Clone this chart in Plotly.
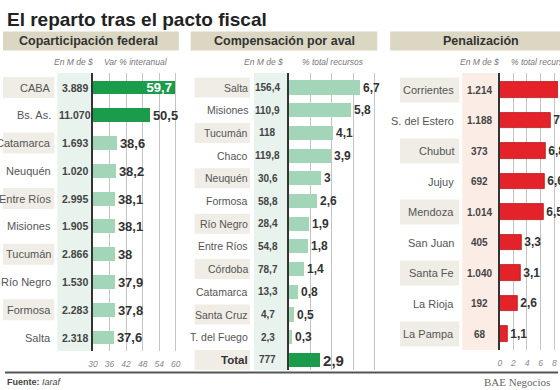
import plotly.graph_objects as go

W, H = 560, 390
FONT = "Liberation Sans, Arial, sans-serif"

# ---------------- data ----------------
copa_names = ["CABA", "Bs. As.", "Catamarca", "Neuquén", "Entre Ríos", "Misiones",
              "Tucumán", "Río Negro", "Formosa", "Salta"]
copa_mill = ["3.889", "11.070", "1.693", "1.020", "2.995", "1.905", "2.866", "1.530", "2.283", "2.318"]
copa_var = [59.7, 50.5, 38.6, 38.2, 38.1, 38.1, 38.0, 37.9, 37.8, 37.6]
copa_ticks = [30, 36, 42, 48, 54, 60]

aval_names = ["Salta", "Misiones", "Tucumán", "Chaco", "Neuquén", "Formosa", "Río Negro",
              "Entre Ríos", "Córdoba", "Catamarca", "Santa Cruz", "T. del Fuego", "Total"]
aval_mill = ["156,4", "110,9", "118", "119,8", "30,6", "58,8", "28,4", "54,8", "78,7",
             "13,3", "4,7", "2,3", "777"]
aval_pct = [6.7, 5.8, 4.1, 3.9, 3.0, 2.6, 1.9, 1.8, 1.4, 0.8, 0.5, 0.3, 2.9]
aval_grid = [2, 4, 6, 8]

pen_names = ["Corrientes", "S. del Estero", "Chubut", "Jujuy", "Mendoza", "San Juan",
             "Santa Fe", "La Rioja", "La Pampa"]
pen_mill = ["1.214", "1.188", "373", "692", "1.014", "405", "1.040", "192", "68"]
pen_pct = [9.7, 7.5, 6.8, 6.6, 6.5, 3.3, 3.1, 2.6, 1.1]
pen_ticks = [0, 2, 4, 6, 8]

LG = "#a3d5b8"
DG = "#1a9c4a"
RED = "#e3222a"
BEIGE = "#dcd7c3"
BOX = "#efede6"
GREEN_BG = "#e8f3ed"
PINK_BG = "#fcece6"


def fx(px):
    return px / W


def fy(py):
    return 1 - py / H


def fmt(v):
    s = f"{v:.1f}"
    if s.endswith(".0"):
        s = s[:-2]
    return s.replace(".", ",")


P = [
    dict(ax=89, right=176, x0=30, scale=2.8, top=73, bottom=351, c0=87.5, sp=27.78, bw=0.5),
    dict(ax=287.7, right=377, x0=0, scale=10.8, top=73, bottom=370, c0=87.5, sp=22.7, bw=0.62),
    dict(ax=501, right=560, x0=0, scale=6.9, top=73, bottom=350, c0=90, sp=30.5, bw=0.52),
]

fig = go.Figure()

# panel 1 bars
fig.add_trace(go.Bar(
    y=list(range(len(copa_names))), x=copa_var, orientation="h",
    marker=dict(color=[DG, DG] + [LG] * 8, line=dict(width=0)),
    width=P[0]["bw"],
    text=[fmt(v) for v in copa_var],
    textposition=["inside"] + ["outside"] * 9,
    insidetextanchor="end",
    textfont=dict(family=FONT, size=13, color="#333"),
    insidetextfont=dict(family=FONT, size=13, color="white", weight="bold"),
    outsidetextfont=dict(family=FONT, size=13, color="#333", weight="bold"),
    constraintext="none", cliponaxis=True, hoverinfo="skip",
    xaxis="x", yaxis="y",
))

# panel 2 bars
fig.add_trace(go.Bar(
    y=list(range(len(aval_names))), x=aval_pct, orientation="h",
    marker=dict(color=[LG] * 12 + [DG], line=dict(width=0)),
    width=P[1]["bw"],
    text=[fmt(v) for v in aval_pct],
    textposition="outside",
    textfont=dict(family=FONT, size=[12] * 12 + [15], color="#333", weight="bold"),
    constraintext="none", cliponaxis=False, hoverinfo="skip",
    xaxis="x2", yaxis="y2",
))

# panel 3 bars
fig.add_trace(go.Bar(
    y=list(range(len(pen_names))), x=pen_pct, orientation="h",
    marker=dict(color=RED, line=dict(width=0.8, color="#b8161d")),
    width=P[2]["bw"],
    text=[fmt(v) for v in pen_pct],
    textposition="outside",
    textfont=dict(family=FONT, size=12, color="#333", weight="bold"),
    constraintext="none", cliponaxis=False, hoverinfo="skip",
    xaxis="x3", yaxis="y3",
))

axis_names = [("xaxis", "yaxis", "x", "y"), ("xaxis2", "yaxis2", "x2", "y2"), ("xaxis3", "yaxis3", "x3", "y3")]
grid_vals = [copa_ticks, aval_grid, pen_ticks]
show_ticks = [True, False, True]
layout_axes = {}
for i, p in enumerate(P):
    xa, ya, xr, yr = axis_names[i]
    layout_axes[xa] = dict(
        domain=[fx(p["ax"]), fx(p["right"])],
        range=[p["x0"], p["x0"] + (p["right"] - p["ax"]) / p["scale"]],
        anchor=yr, showgrid=True, gridcolor="#c4c4c4", gridwidth=1,
        tickvals=grid_vals[i], showticklabels=show_ticks[i], zeroline=False,
        showline=False, ticks="", fixedrange=True,
        tickfont=dict(family=FONT, size=8.5, color="#888", style="italic"),
        ticklabelstandoff=6,
    )
    layout_axes[ya] = dict(
        domain=[fy(p["bottom"]), fy(p["top"])],
        range=[(p["bottom"] - p["c0"]) / p["sp"], (p["top"] - p["c0"]) / p["sp"]],
        anchor=xr, showgrid=False, zeroline=False, showticklabels=False,
        showline=True, linecolor="#333", linewidth=1.5, ticks="", fixedrange=True,
    )

shapes = []
annotations = []

# headers
headers = [("Coparticipación federal", -2, 176), ("Compensación por aval", 188, 377),
           ("Penalización", 390, 562)]
header_centers = [85, 283.5, 481.7]
for (txt, x0, x1), cx in zip(headers, header_centers):
    shapes.append(dict(type="rect", xref="paper", yref="paper", x0=fx(x0), x1=fx(x1),
                       y0=fy(50.5), y1=fy(31.5), fillcolor=BEIGE, line=dict(width=0), layer="below"))
    annotations.append(dict(xref="paper", yref="paper", x=fx(cx), y=fy(41), text=f"<b>{txt}</b>",
                            showarrow=False, xanchor="center", yanchor="middle",
                            font=dict(family=FONT, size=12.5, color="#333")))

# sub headers
subs = [("En M de $", 69, "center"), ("Var % interanual", 133, "center"),
        ("En M de $", 262, "center"), ("% total recursos", 332, "center"),
        ("En M de $", 480, "center"), ("% total recursos", 510, "left")]
for txt, x, anc in subs:
    annotations.append(dict(xref="paper", yref="paper", x=fx(x), y=fy(62), text=txt,
                            showarrow=False, xanchor=anc, yanchor="middle",
                            font=dict(family=FONT, size=8.5, color="#777", style="italic")))

# value column backgrounds
val_cols = [(53, 89, 73, 351, GREEN_BG), (252, 287.7, 73, 370, GREEN_BG), (463, 501, 73, 350, PINK_BG)]
for x0, x1, y0, y1, c in val_cols:
    shapes.append(dict(type="rect", xref="paper", yref="paper", x0=fx(x0), x1=fx(x1),
                       y0=fy(y1), y1=fy(y0), fillcolor=c, line=dict(width=0), layer="below"))

# rows: name boxes, names, values
row_specs = [
    (copa_names, copa_mill, "y", P[0], -2, 50, 49, 71, 11, 10.5, 21),
    (aval_names, aval_mill, "y2", P[1], 192, 248, 247.7, 266, 10.5, 10, 20),
    (pen_names, pen_mill, "y3", P[2], 400, 460, 457, 481, 11, 10, 25),
]
for names, mills, yr, p, bx0, bx1, nx, vx, nsize, vsize, bh in row_specs:
    half = bh / 2 / p["sp"]
    for i, (n, m) in enumerate(zip(names, mills)):
        if i % 2 == 0:
            shapes.append(dict(type="rect", xref="paper", yref=yr, x0=fx(bx0), x1=fx(bx1),
                               y0=i - half, y1=i + half, fillcolor=BOX, line=dict(width=0), layer="below"))
        is_total = (n == "Total")
        annotations.append(dict(xref="paper", yref=yr, x=fx(nx), y=i,
                                text=f"<b>{n}</b>" if is_total else n,
                                showarrow=False, xanchor="right", yanchor="middle",
                                font=dict(family=FONT, size=nsize + (1 if is_total else 0),
                                          color="#333" if is_total else "#555")))
        annotations.append(dict(xref="paper", yref=yr, x=fx(vx), y=i, text=f"<b>{m}</b>",
                                showarrow=False, xanchor="center", yanchor="middle",
                                font=dict(family=FONT, size=vsize, color="#444")))

# title
annotations.append(dict(xref="paper", yref="paper", x=0, y=fy(19),
                        text="<b>El reparto tras el pacto fiscal</b>",
                        showarrow=False, xanchor="left", yanchor="middle",
                        font=dict(family=FONT, size=19, color="#222")))

# bottom rule
shapes.append(dict(type="line", xref="paper", yref="paper", x0=0, x1=1, y0=fy(372.5), y1=fy(372.5),
                   line=dict(color="#555", width=2)))

# footer
annotations.append(dict(xref="paper", yref="paper", x=0, y=fy(381.5),
                        text="<b>Fuente:</b> <i>Iaraf</i>", showarrow=False, xanchor="left", yanchor="middle",
                        font=dict(family=FONT, size=9, color="#444")))
annotations.append(dict(xref="paper", yref="paper", x=fx(483), y=fy(381.5),
                        text="BAE Negocios", showarrow=False, xanchor="left", yanchor="middle",
                        font=dict(family="Liberation Serif, DejaVu Serif, serif", size=11, color="#666")))

fig.update_layout(
    width=W, height=H, margin=dict(l=0, r=0, t=0, b=0),
    paper_bgcolor="white", plot_bgcolor="rgba(0,0,0,0)",
    showlegend=False, shapes=shapes, annotations=annotations,
    bargap=0, **layout_axes,
)

fig.write_html("out.html", config=dict(displayModeBar=False),
               post_script="document.body.style.margin='0';document.body.style.overflow='hidden';")
